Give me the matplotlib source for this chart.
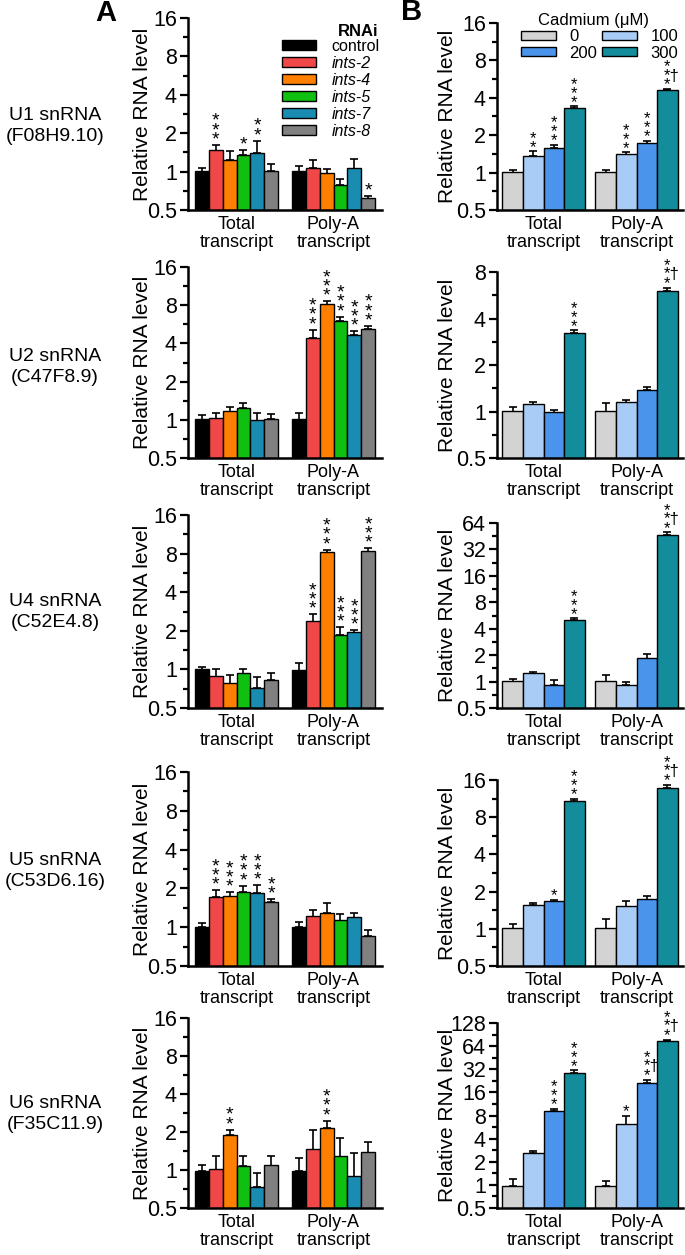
import matplotlib
matplotlib.use('Agg')

import matplotlib.pyplot as plt
from matplotlib.patches import Patch
import numpy as np

plt.rcParams['font.family'] = ['Liberation Sans', 'DejaVu Sans']

# ---- data ----
groups = ['Total\ntranscript', 'Poly-A\ntranscript']
row_names = ['U1 snRNA\n(F08H9.10)', 'U2 snRNA\n(C47F8.9)', 'U4 snRNA\n(C52E4.8)',
             'U5 snRNA\n(C53D6.16)', 'U6 snRNA\n(F35C11.9)']

rnai_labels = ['control', 'ints-2', 'ints-4', 'ints-5', 'ints-7', 'ints-8']
rnai_colors = ['#000000', '#F04848', '#FF8000', '#10C010', '#1A8CB2', '#808080']

cd_labels = ['0', '100', '200', '300']
cd_colors = ['#D3D3D3', '#A8CCF5', '#4A94EC', '#138D9C']

# panel A: [row][group][bar]  mean, upper error end, significance
a_mean = [
    [[1.00, 1.46, 1.23, 1.34, 1.39, 1.01], [1.00, 1.06, 0.96, 0.78, 1.05, 0.61]],
    [[1.00, 1.02, 1.16, 1.23, 0.98, 1.01], [1.00, 4.38, 8.10, 6.00, 4.65, 5.15]],
    [[0.99, 0.88, 0.77, 0.92, 0.71, 0.82], [0.98, 2.36, 8.15, 1.85, 1.93, 8.30]],
    [[1.00, 1.72, 1.73, 1.86, 1.84, 1.56], [1.00, 1.21, 1.29, 1.12, 1.18, 0.85]],
    [[0.98, 1.00, 1.90, 1.07, 0.73, 1.08], [0.98, 1.45, 2.14, 1.27, 0.88, 1.37]],
]
a_top = [
    [[1.06, 1.62, 1.45, 1.48, 1.75, 1.15], [1.11, 1.23, 1.04, 0.88, 1.25, 0.64]],
    [[1.09, 1.13, 1.27, 1.35, 1.13, 1.11], [1.14, 5.14, 8.60, 6.50, 5.00, 5.50]],
    [[1.04, 1.00, 0.90, 1.00, 0.87, 0.93], [1.13, 2.69, 8.60, 2.13, 2.03, 8.80]],
    [[1.08, 1.94, 1.86, 2.10, 2.12, 1.65], [1.09, 1.36, 1.53, 1.26, 1.29, 0.95]],
    [[1.09, 1.30, 2.09, 1.29, 0.95, 1.29], [1.25, 2.08, 2.46, 1.79, 1.36, 1.66]],
]
a_sig = [
    [['', '***', '', '*', '**', ''], ['', '', '', '', '', '*']],
    [['', '', '', '', '', ''], ['', '***', '***', '***', '***', '***']],
    [['', '', '', '', '', ''], ['', '***', '***', '***', '***', '***']],
    [['', '***', '***', '***', '***', '**'], ['', '', '', '', '', '']],
    [['', '', '**', '', '', ''], ['', '', '***', '', '', '']],
]

# panel B
b_mean = [
    [[1.00, 1.35, 1.58, 3.31], [1.00, 1.39, 1.71, 4.60]],
    [[1.00, 1.10, 0.98, 3.23], [1.00, 1.14, 1.37, 6.03]],
    [[1.00, 1.23, 0.91, 5.03], [1.00, 0.91, 1.83, 47.0]],
    [[1.00, 1.55, 1.66, 10.9], [1.00, 1.51, 1.72, 13.9]],
    [[0.96, 2.61, 9.10, 28.6], [0.96, 6.10, 21.3, 75.6]],
]
b_top = [
    [[1.05, 1.48, 1.67, 3.42], [1.05, 1.46, 1.81, 4.70]],
    [[1.07, 1.16, 1.03, 3.36], [1.13, 1.19, 1.45, 6.30]],
    [[1.08, 1.29, 1.04, 5.25], [1.18, 1.00, 2.05, 50.0]],
    [[1.10, 1.62, 1.72, 11.3], [1.19, 1.67, 1.83, 14.6]],
    [[1.20, 2.80, 9.85, 31.0], [1.12, 8.00, 23.4, 78.0]],
]
b_sig = [
    [['', '**', '***', '***'], ['', '***', '***', '***†']],
    [['', '', '', '***'], ['', '', '', '***†']],
    [['', '', '', '***'], ['', '', '', '***†']],
    [['', '', '*', '***'], ['', '', '', '***†']],
    [['', '', '***', '***'], ['', '*', '***†', '***†']],
]
b_ymax = [16, 8, 64, 16, 128]

# ---- layout (pixels) ----
W, H = 685, 1255
fig = plt.figure(figsize=(W / 100, H / 100), dpi=100)

a_rows = [(18, 210), (267, 458), (515, 708), (772, 966), (1018, 1208)]
b_rows = [(23, 210), (272, 458), (523, 708), (780, 966), (1023, 1208)]
label_y = [126, 367, 612, 871, 1114]


def make_ax(x0, x1, y0, y1):
    return fig.add_axes([x0 / W, 1 - y1 / H, (x1 - x0) / W, (y1 - y0) / H])


def style_ax(ax, ymax, ylab_x):
    ax.set_yscale('log', base=2)
    ax.set_ylim(0.5, ymax)
    ax.set_xlim(-0.5, 1.5)
    n = int(round(np.log2(ymax))) + 1
    majors = [0.5 * 2 ** k for k in range(n + 1) if 0.5 * 2 ** k <= ymax]
    ax.set_yticks(majors)
    ax.set_yticklabels(['0.5' if v == 0.5 else str(int(v)) for v in majors], fontsize=15.5)
    ax.set_yticks([v * np.sqrt(2) for v in majors[:-1]], minor=True)
    ax.yaxis.set_minor_formatter(plt.NullFormatter())
    ax.tick_params(axis='y', which='major', length=6, width=1.6, pad=2)
    ax.tick_params(axis='y', which='minor', length=3.5, width=1.6)
    ax.set_xticks([0, 1])
    ax.set_xticklabels(groups, fontsize=13, linespacing=1.1)
    ax.tick_params(axis='x', length=0, pad=4)
    for s in ['top', 'right']:
        ax.spines[s].set_visible(False)
    for s in ['left', 'bottom']:
        ax.spines[s].set_linewidth(1.8)
    ax.set_ylabel('Relative RNA level', fontsize=15, va='center')
    ax.yaxis.set_label_coords(ylab_x, 0.5)


def draw_bars(ax, mean, top, sig, colors, width, fs, lsp):
    nb = len(colors)
    for g in range(2):
        for i in range(nb):
            x = g + (i - (nb - 1) / 2) * width
            m = mean[g][i]
            t = top[g][i]
            ax.bar(x, m, width=width, bottom=0.01, color=colors[i], edgecolor='black',
                   linewidth=1.0, zorder=2)
            ax.errorbar(x, m, yerr=[[0], [t - m]], fmt='none', ecolor='black',
                        elinewidth=1.2, capsize=3, capthick=1.2, zorder=1)
            s = sig[g][i]
            if not s:
                continue
            # one star per line, dagger next to the middle star
            stars = s.rstrip('†')
            lines = list(stars)
            if s.endswith('†'):
                lines[len(lines) // 2] += '†'
            ax.annotate('\n'.join(lines), (x, t), xytext=(-0.2 * fs, -2.5),
                        textcoords='offset points', ha='left', va='bottom',
                        multialignment='left', fontsize=fs, linespacing=lsp)


for r in range(5):
    axa = make_ax(188, 382, *a_rows[r])
    style_ax(axa, 16, (143 - 188) / 194)
    draw_bars(axa, a_mean[r], a_top[r], a_sig[r], rnai_colors, 0.143, 14, 0.4)

    axb = make_ax(497, 683, *b_rows[r])
    style_ax(axb, b_ymax[r], (447 - 497) / 186)
    draw_bars(axb, b_mean[r], b_top[r], b_sig[r], cd_colors, 0.222, 12, 0.5)

    fig.text(55 / W, 1 - label_y[r] / H, row_names[r], ha='center', va='center',
             fontsize=14, linespacing=1.25)

    if r == 0:
        hs = [Patch(facecolor=c, edgecolor='black', linewidth=1.0) for c in rnai_colors]
        leg = axa.legend(hs, rnai_labels, loc='upper left', frameon=False,
                         bbox_to_anchor=(282 / W, 1 - 39 / H), bbox_transform=fig.transFigure,
                         fontsize=11.5, handlelength=2.1, handleheight=0.6,
                         labelspacing=0.12, handletextpad=1.0, borderpad=0, borderaxespad=0)
        for t in leg.get_texts()[1:]:
            t.set_style('italic')
        fig.text(358 / W, 1 - 32 / H, 'RNAi', ha='center', va='center',
                 fontsize=12, fontweight='bold')

        order = [0, 2, 1, 3]
        hb = [Patch(facecolor=cd_colors[i], edgecolor='black', linewidth=1.0) for i in order]
        legb = axb.legend(hb, [cd_labels[i] for i in order], ncol=2, loc='upper left',
                          frameon=False, bbox_to_anchor=(521 / W, 1 - 29 / H),
                          bbox_transform=fig.transFigure, fontsize=12, handlelength=2.1,
                          handleheight=0.45, labelspacing=0.1, handletextpad=0.8,
                          columnspacing=0.3, borderpad=0, borderaxespad=0)
        fig.text(593 / W, 1 - 20 / H, 'Cadmium (μM)', ha='center', va='center', fontsize=12)

fig.text(106 / W, 1 - 13 / H, 'A', ha='center', va='center', fontsize=21, fontweight='bold')
fig.text(412 / W, 1 - 12 / H, 'B', ha='center', va='center', fontsize=21, fontweight='bold')

fig.savefig('out.png', dpi=100)
